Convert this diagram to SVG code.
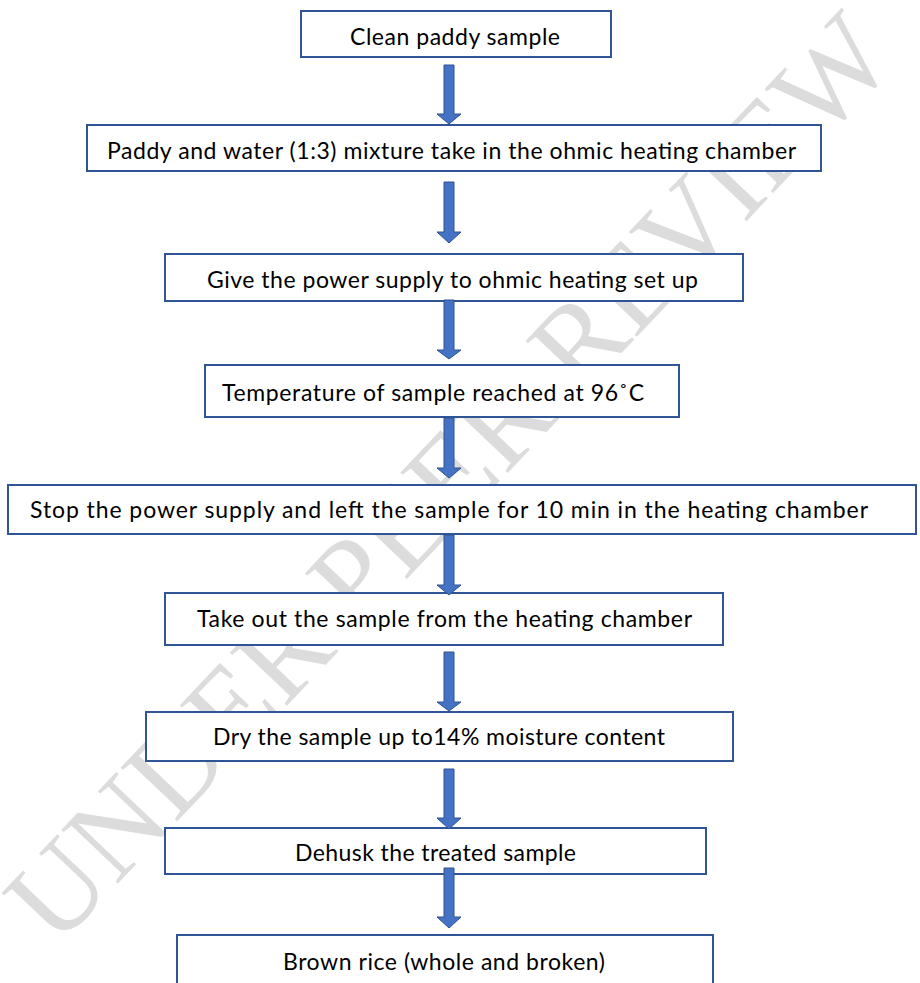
<svg xmlns="http://www.w3.org/2000/svg" width="920" height="983" viewBox="0 0 920 983">
<style>
.box{fill:#ffffff;stroke:#2F5597;stroke-width:2}
.lbl{font-family:Lato,"Liberation Sans",sans-serif;font-size:23px;fill:#000000}
.arr{fill:#4472C4;stroke:#2F528F;stroke-width:1}
.wm{font-family:"Liberation Serif","Times New Roman",serif;font-size:119px;fill:#dcdcdc}
</style>
<rect width="920" height="983" fill="#ffffff"/>
<g id="watermark">
<text class="wm" transform="translate(449,478) rotate(-46.5)" x="0" y="39" text-anchor="middle">UNDER PEER REVIEW</text>
</g>
<g id="n1"><rect class="box" x="301" y="11" width="310" height="46"/><text class="lbl" x="350" y="45" textLength="210">Clean paddy sample</text></g>
<g id="n2"><rect class="box" x="87" y="125" width="734" height="46"/><text class="lbl" x="107" y="159" textLength="689">Paddy and water (1:3) mixture take in the ohmic heating chamber</text></g>
<g id="n3"><rect class="box" x="165" y="254" width="578" height="47"/><text class="lbl" x="207" y="288" textLength="491">Give the power supply to ohmic heating set up</text></g>
<g id="n4"><rect class="box" x="205" y="365" width="474" height="52"/><text class="lbl" x="222" y="401" textLength="422">Temperature of sample reached at 96˚C</text></g>
<g id="n5"><rect class="box" x="8" y="485" width="908" height="49"/><text class="lbl" x="30" y="518" textLength="838">Stop the power supply and left the sample for 10 min in the heating chamber</text></g>
<g id="n6"><rect class="box" x="165" y="593" width="558" height="52"/><text class="lbl" x="197" y="627" textLength="495">Take out the sample from the heating chamber</text></g>
<g id="n7"><rect class="box" x="146" y="712" width="587" height="49"/><text class="lbl" x="213" y="745" textLength="452">Dry the sample up to14% moisture content</text></g>
<g id="n8"><rect class="box" x="165" y="828" width="541" height="46"/><text class="lbl" x="295" y="861" textLength="281">Dehusk the treated sample</text></g>
<g id="n9"><path class="box" d="M177,990 V935 H713 V990"/><text class="lbl" x="283" y="970" textLength="322">Brown rice (whole and broken)</text></g>
<g id="connectors">
<path class="arr" d="M444,65 H454 V114 H461 L449,124 L437,114 H444 Z"/>
<path class="arr" d="M444,182 H454 V232 H461 L449,243 L437,232 H444 Z"/>
<path class="arr" d="M444,300 H454 V350 H461 L449,359 L437,350 H444 Z"/>
<path class="arr" d="M444,418 H454 V468 H461 L449,478 L437,468 H444 Z"/>
<path class="arr" d="M444,535 H454 V585 H461 L449,595 L437,585 H444 Z"/>
<path class="arr" d="M444,652 H454 V702 H461 L449,711 L437,702 H444 Z"/>
<path class="arr" d="M444,769 H454 V818 H461 L449,829 L437,818 H444 Z"/>
<path class="arr" d="M444,868 H454 V917 H461 L449,928 L437,917 H444 Z"/>
</g>
</svg>
